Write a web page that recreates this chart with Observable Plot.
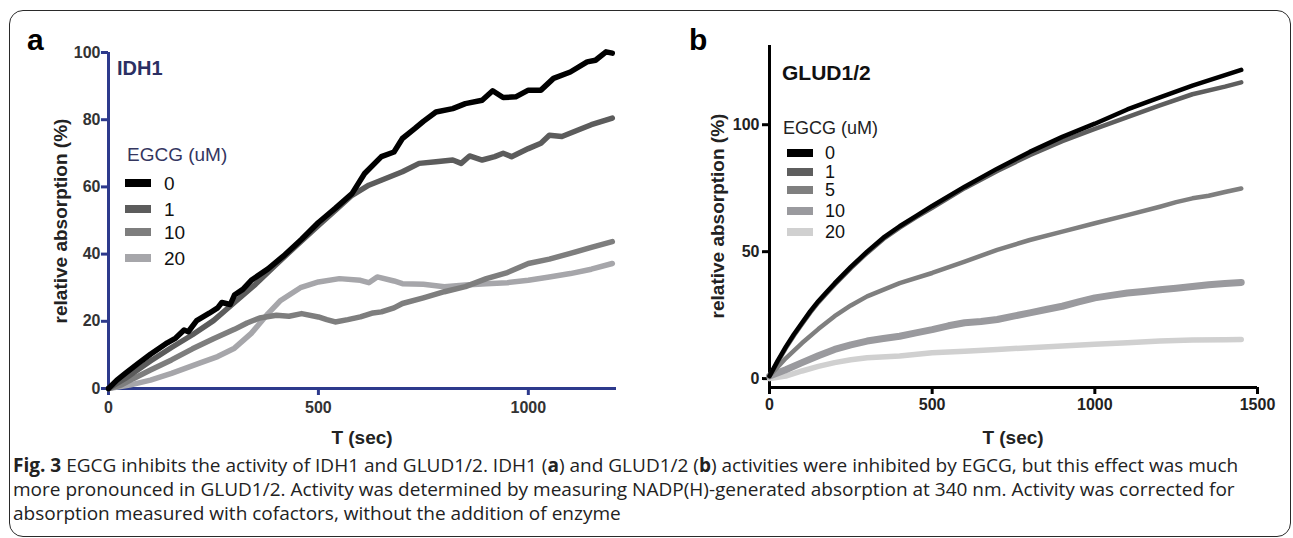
<!DOCTYPE html>
<html><head><meta charset="utf-8">
<script src="https://cdn.jsdelivr.net/npm/d3@7"></script>
<script src="https://cdn.jsdelivr.net/npm/@observablehq/plot@0.6"></script>
<style>
body{margin:0;background:#fff;}
#wrap{position:relative;width:1293px;height:538px;overflow:hidden;font-family:"Liberation Sans",Arial,sans-serif;color:#111;}
.abs{position:absolute;white-space:nowrap;line-height:1;}
.box{position:absolute;left:9px;top:10px;width:1282px;height:527px;box-sizing:border-box;border:1.5px solid #2a2a2a;border-radius:14px;}
.cap{position:absolute;left:13px;white-space:nowrap;font-family:"Open Sans","Noto Sans",sans-serif;color:#222;}
</style></head>
<body><div id="wrap"><div class="box"></div></div>
<script>
// ---------- DATA ----------
// Panel a: IDH1
const idh1Labels = ["0", "1", "10", "20"];
const idh1T0 = [0,20,40,70,100,140,160,180,190,210,240,260,270,290,300,320,340,380,420,460,500,540,580,610,650,680,700,730,750,780,820,850,890,915,940,970,1000,1030,1060,1100,1140,1160,1185,1200];
const idh1Y0 = [0,2.5,4.5,7.4,10.2,13.6,15,17.4,16.9,20.2,22.4,24,25.6,25,27.8,29.5,32.2,35.6,39.8,44.4,49.4,53.6,58,64,69,70.4,74.4,77.4,79.5,82.3,83.3,84.8,85.8,88.6,86.6,86.8,88.8,88.8,92.3,94.2,97.2,97.7,100.2,99.8];
const idh1T1 = [0,40,100,150,200,250,300,350,400,450,500,540,580,620,660,700,740,780,820,840,860,890,920,940,960,1000,1030,1050,1080,1120,1150,1200];
const idh1Y1 = [0,3,8.2,12.2,16,20.2,25.6,31,37,42.8,48.5,53,57.5,60.5,62.5,64.5,67,67.5,68,67,69.2,68,69,70,69,71.4,73,75.4,75,77,78.5,80.5];
const idh1T10 = [0,30,60,100,150,200,250,300,330,360,400,430,460,500,520,540,570,600,630,650,680,700,750,800,850,900,950,1000,1050,1100,1150,1200];
const idh1Y10 = [0,1,3,5.5,8.5,11.8,14.8,17.6,19.5,21,21.8,21.5,22.3,21.3,20.5,19.8,20.5,21.3,22.5,22.8,24,25.3,27,28.8,30.3,32.7,34.5,37.2,38.5,40.2,42,43.7];
const idh1T20 = [0,50,100,150,220,260,300,340,380,410,457,500,550,600,620,640,680,700,750,800,850,900,950,1000,1050,1100,1150,1200];
const idh1Y20 = [0,1,2.5,4.5,7.7,9.5,12,16.4,22.3,26.2,30,31.7,32.7,32.2,31.5,33.2,32,31.2,31,30.3,30.8,31.2,31.5,32.2,33.2,34.2,35.5,37.2];
const idh1XTicks = [0, 500, 1000];
const idh1YTicks = [0, 20, 40, 60, 80, 100];

// Panel b: GLUD1/2
const gludLabels = ["0", "1", "5", "10", "20"];
const gludT0 = [0,25,50,75,100,125,150,175,200,250,300,350,400,450,500,600,700,800,900,1000,1100,1200,1300,1400,1450];
const gludY0 = [1,7,12.5,17.5,22,26.5,30.5,34,37.5,44,50,55.5,60,64,68,75.6,82.7,89.3,95.2,100.4,106,110.8,115.4,119.5,121.6];
const gludT1 = [0,25,50,75,100,125,150,175,200,250,300,350,400,450,500,600,700,800,900,1000,1100,1200,1300,1400,1450];
const gludY1 = [1,6.5,12,17,21.5,26,30,33.5,37,43.5,49.5,55,59.5,63.5,67.3,75,81.8,88,93.5,98.4,103,107.6,112,115,116.7];
const gludT5 = [0,50,100,150,200,250,300,400,500,600,700,800,900,1000,1100,1200,1250,1300,1350,1400,1450];
const gludY5 = [1,8,14,19.5,24.6,28.8,32.4,37.6,41.6,46.1,50.7,54.6,57.9,61.2,64.4,67.7,69.5,71,72,73.5,74.9];
const gludT10 = [0,50,100,150,200,250,300,350,400,450,500,550,600,650,700,750,800,850,900,950,1000,1050,1100,1150,1200,1250,1300,1350,1400,1450];
const gludY10 = [1,3.5,6.3,9,11.5,13.3,14.8,15.8,16.7,18,19.3,20.8,22,22.5,23.3,24.6,25.9,27.2,28.5,30.2,31.8,32.8,33.7,34.3,35,35.6,36.3,37,37.5,37.9];
const gludT20 = [0,50,100,150,200,250,300,400,500,600,700,800,900,1000,1100,1200,1300,1400,1450];
const gludY20 = [0,1,3,4.8,6.3,7.4,8.2,8.9,10.2,10.8,11.5,12.2,12.8,13.5,14.1,14.8,15.2,15.3,15.4];
const gludXTicks = [0, 500, 1000, 1500];
const gludYTicks = [0, 50, 100];

// ---------- STYLE / LAYOUT ----------
const FONT = '"Liberation Sans", Arial, sans-serif';
const navy = "#2d3a8c";
const idh1Colors = ["#000000", "#5c5c5c", "#7e7e7e", "#a6a6aa"];
const idh1Widths = [5.5, 5.5, 5.5, 5.5];
const gludColors = ["#000000", "#5e5e5e", "#7f7f7f", "#9a9a9e", "#d0d0d0"];
const gludWidths = [4.5, 4.5, 4.5, 7, 5.5];

const idh1Series = [[idh1T0,idh1Y0],[idh1T1,idh1Y1],[idh1T10,idh1Y10],[idh1T20,idh1Y20]];
const gludSeries = [[gludT0,gludY0],[gludT1,gludY1],[gludT5,gludY5],[gludT10,gludY10],[gludT20,gludY20]];

function rows(pair){ return pair[0].map((t,i)=>({t, v: pair[1][i]})); }
function lineMarks(series, colors, widths){
  const m = [];
  for (let i = series.length - 1; i >= 0; i--) {
    m.push(Plot.line(rows(series[i]), {x:"t", y:"v", stroke: colors[i], strokeWidth: widths[i], strokeLinejoin:"round", curve:"linear"}));
  }
  return m;
}

const wrap = document.getElementById("wrap");

const plotA = Plot.plot({
  width: 660, height: 430,
  marginLeft: 108, marginRight: 44, marginTop: 52, marginBottom: 42,
  x: {domain: [0, 1210]},
  y: {domain: [0, 100]},
  style: {fontFamily: FONT, fontWeight: "bold", fontSize: "16px", color: "#333", background: "transparent", overflow: "visible"},
  marks: [
    Plot.axisX({ticks: idh1XTicks, tickSize: 7, tickPadding: 6, stroke: navy, strokeWidth: 3, fill: "#333", label: null, tickFormat: d => String(d)}),
    Plot.axisY({ticks: idh1YTicks, tickSize: 7, tickPadding: 1, stroke: navy, strokeWidth: 3, fill: "#333", label: null, tickFormat: d => String(d)}),
    Plot.ruleY([0], {x1: 0, x2: 1210, stroke: navy, strokeWidth: 3}),
    Plot.ruleX([0], {y1: 0, y2: 100, stroke: navy, strokeWidth: 3}),
    ...lineMarks(idh1Series, idh1Colors, idh1Widths)
  ]
});
plotA.style.position = "absolute"; plotA.style.left = "0px"; plotA.style.top = "0px";
wrap.appendChild(plotA);

const plotB = Plot.plot({
  width: 633, height: 430,
  marginLeft: 109, marginRight: 36, marginTop: 45, marginBottom: 43,
  x: {domain: [0, 1500]},
  y: {domain: [-3.5, 131.2]},
  style: {fontFamily: FONT, fontWeight: "bold", fontSize: "16px", color: "#222", background: "transparent", overflow: "visible"},
  marks: [
    Plot.axisX({ticks: gludXTicks, tickSize: 7, tickPadding: 4, stroke: "#000", strokeWidth: 3, fill: "#222", label: null, tickFormat: d => String(d)}),
    Plot.axisY({ticks: gludYTicks, tickSize: 7, tickPadding: 3, stroke: "#000", strokeWidth: 3, fill: "#222", label: null, tickFormat: d => String(d)}),
    Plot.ruleY([-3.5], {x1: 0, x2: 1500, stroke: "#000", strokeWidth: 3}),
    Plot.ruleX([0], {y1: -3.5, y2: 131.2, stroke: "#000", strokeWidth: 3}),
    ...lineMarks(gludSeries, gludColors, gludWidths)
  ]
});
plotB.style.position = "absolute"; plotB.style.left = "660px"; plotB.style.top = "0px";
wrap.appendChild(plotB);

// ---------- TEXT ----------
function addText(txt, x, y, css, anchor){
  const d = document.createElement("div");
  d.className = "abs";
  d.textContent = txt;
  d.style.left = x + "px"; d.style.top = y + "px";
  d.style.transform = anchor || "translate(0,-50%)";
  Object.assign(d.style, css);
  wrap.appendChild(d);
  return d;
}
// panel letters
addText("a", 27, 40, {fontSize: "30px", fontWeight: "bold", color: "#000"});
addText("b", 689, 40, {fontSize: "30px", fontWeight: "bold", color: "#000"});
// axis titles
const titleCss = {fontSize: "19px", fontWeight: "bold", color: "#222"};
addText("relative absorption (%)", 60, 221, titleCss, "translate(-50%,-50%) rotate(-90deg)");
addText("relative absorption (%)", 717, 216, titleCss, "translate(-50%,-50%) rotate(-90deg)");
addText("T (sec)", 362, 437, titleCss, "translate(-50%,-50%)");
addText("T (sec)", 1013, 437, titleCss, "translate(-50%,-50%)");
// panel titles
addText("IDH1", 117, 68, {fontSize: "20px", fontWeight: "bold", color: "#2b2f63"});
addText("GLUD1/2", 782, 72, {fontSize: "21px", fontWeight: "bold", color: "#111"});
// legends
function legend(title, titleX, titleY, titleColor, labels, colors, rowsY, sx, lx, fs){
  addText(title, titleX, titleY, {fontSize: fs + "px", color: titleColor});
  labels.forEach((lab, i) => {
    const s = document.createElement("div");
    s.style.cssText = `position:absolute;left:${sx}px;top:${rowsY[i]-4}px;width:26px;height:8px;background:${colors[i]};`;
    wrap.appendChild(s);
    addText(lab, lx, rowsY[i], {fontSize: fs + "px", color: "#111"});
  });
}
legend("EGCG (uM)", 127, 154, "#34365f", idh1Labels, idh1Colors, [183, 209, 232, 258], 125, 164, 19);
legend("EGCG (uM)", 783, 128, "#222", gludLabels, gludColors, [153, 172, 190, 211, 232], 787, 825, 18);

// caption
const capLines = [
  '<b>Fig. 3</b> EGCG inhibits the activity of IDH1 and GLUD1/2. IDH1 (<b>a</b>) and GLUD1/2 (<b>b</b>) activities were inhibited by EGCG, but this effect was much',
  'more pronounced in GLUD1/2. Activity was determined by measuring NADP(H)-generated absorption at 340\u00a0nm. Activity was corrected for',
  'absorption measured with cofactors, without the addition of enzyme'
];
const capTops = [466, 490, 514];
const capEls = capLines.map((h, i) => {
  const d = document.createElement("div");
  d.className = "cap";
  d.innerHTML = h;
  d.style.fontSize = "17px";
  d.style.lineHeight = "1";
  wrap.appendChild(d);
  return d;
});
const w0 = capEls[0].getBoundingClientRect().width;
const fs = 17 * 1226 / w0;
capEls.forEach((d, i) => {
  d.style.fontSize = fs + "px";
  d.style.top = (capTops[i] - fs / 2) + "px";
});
</script>
</body></html>
